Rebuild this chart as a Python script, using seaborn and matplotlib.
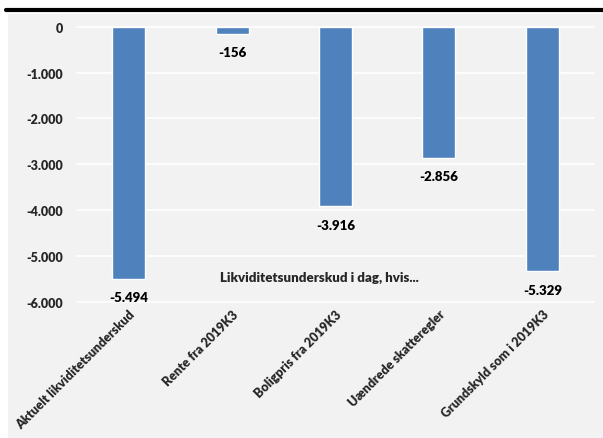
import matplotlib
matplotlib.use("Agg")
import matplotlib.pyplot as plt
import seaborn as sns
import pandas as pd
from matplotlib.patches import Rectangle
from matplotlib.lines import Line2D

categories = ["Aktuelt likviditetsunderskud", "Rente fra 2019K3", "Boligpris fra 2019K3",
              "Uændrede skatteregler", "Grundskyld som i 2019K3"]
values = [-5494, -156, -3916, -2856, -5329]
value_labels = ["-5.494", "-156", "-3.916", "-2.856", "-5.329"]
y_ticks = [0, -1000, -2000, -3000, -4000, -5000, -6000]
y_tick_labels = ["0", "-1.000", "-2.000", "-3.000", "-4.000", "-5.000", "-6.000"]
note = "Likviditetsunderskud i dag, hvis..."

df = pd.DataFrame({"kategori": categories, "værdi": values})

sns.set_theme(style="white")
plt.rcParams["font.family"] = ["Lato", "DejaVu Sans"]
W = "heavy"

fig = plt.figure(figsize=(6.03, 4.39), dpi=100)
fig.patch.set_facecolor("white")

# grey panel and black top rule
fig.patches.append(Rectangle((8 / 603, 0), 1, (439 - 15) / 439, transform=fig.transFigure,
                             facecolor="#f2f2f2", edgecolor="none", zorder=-5))
fig.lines.append(Line2D([6 / 603, 1], [1 - 11 / 439, 1 - 11 / 439], transform=fig.transFigure,
                        color="black", linewidth=3, zorder=-4))

ax = fig.add_axes([77 / 603, (439 - 303) / 439, (594 - 77) / 603, (303 - 27.7) / 439])
ax.set_facecolor("none")
ax.set_zorder(2)

sns.barplot(data=df, x="kategori", y="værdi", color="#4f81bd", width=0.32,
            saturation=1, ax=ax, zorder=3)

ax.set_ylim(-6000, 0)
ax.set_yticks(y_ticks)
ax.set_yticklabels(y_tick_labels, fontsize=9, fontweight=W)
ax.yaxis.grid(True, color="white", linewidth=1.2)
ax.set_axisbelow(True)
for gl in ax.get_ygridlines():
    gl.set_clip_on(False)

ax.set_xticks(range(len(categories)))
ax.set_xticklabels(categories, rotation=45, ha="right", rotation_mode="anchor",
                   fontsize=9, fontweight=W)
ax.tick_params(axis="both", length=0, pad=4)
ax.tick_params(axis="y", pad=10)
ax.set_xlabel("")
ax.set_ylabel("")
for s in ax.spines.values():
    s.set_visible(False)

for i, (v, lab) in enumerate(zip(values, value_labels)):
    ax.annotate(lab, (i, v), xytext=(0, -9), textcoords="offset points",
                ha="center", va="top", fontsize=9.5, fontweight=W, color="black")

ax.text(1.84, -5450, note, ha="center", va="center", fontsize=9.5, fontweight=W)

fig.savefig("out.png", dpi=100)
